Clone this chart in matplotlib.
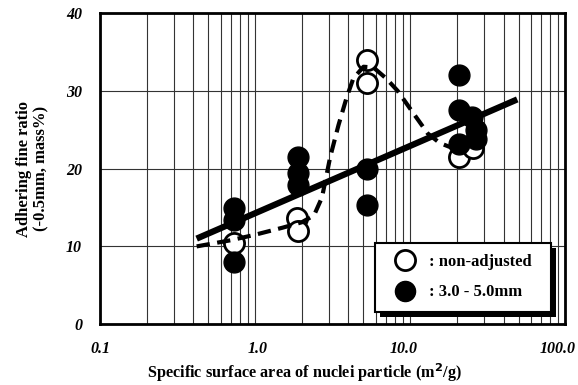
import matplotlib
matplotlib.use("Agg")
import matplotlib.pyplot as plt
from matplotlib.lines import Line2D
from matplotlib.patches import Rectangle
from matplotlib.transforms import ScaledTranslation
from matplotlib.ticker import FixedLocator, FixedFormatter, LogLocator, NullFormatter

# ---- data ----
open_x = [0.73, 1.85, 1.9, 5.3, 5.3, 20.5, 25.5]
open_y = [10.4, 13.6, 12.0, 34.0, 31.0, 21.5, 22.6]

filled_x = [0.73, 0.73, 0.73, 1.9, 1.9, 1.9, 5.3, 5.3, 20.5, 20.5, 20.5, 25.0, 26.5, 26.5]
filled_y = [15.0, 13.4, 8.0, 21.5, 19.4, 17.9, 20.0, 15.3, 32.0, 27.5, 23.2, 26.6, 25.0, 23.8]

line_x = [0.42, 49.0]
line_y = [11.0, 28.9]

dash_x = [0.42, 0.7, 1.0, 1.5, 2.0, 2.4, 2.7, 3.05, 3.45, 3.9, 4.3, 5.0, 5.8, 7.0, 8.3, 10.5, 13.0, 15.5, 19.0]
dash_y = [10.0, 10.8, 11.5, 12.4, 13.1, 14.0, 16.3, 21.5, 25.6, 29.2, 31.6, 33.1, 33.0, 31.6, 30.0, 27.1, 24.5, 23.3, 22.6]

xtick_vals = [0.1, 1.0, 10.0, 100.0]
xtick_labels = ["0.1", "1.0", "10.0", "100.0"]
ytick_vals = [0, 10, 20, 30, 40]
ytick_labels = ["0", "10", "20", "30", "40"]
legend_labels = [": non-adjusted  ", ": 3.0 - 5.0mm"]

serif = "Liberation Serif"

fig = plt.figure(figsize=(5.78, 3.85), dpi=100)
ax = fig.add_axes([0.173, 0.158, 0.805, 0.808])

ax.set_xscale("log")
ax.set_xlim(0.1, 100)
ax.set_ylim(0, 40)

ax.xaxis.set_major_locator(FixedLocator(xtick_vals))
ax.xaxis.set_major_formatter(FixedFormatter(xtick_labels))
ax.xaxis.set_minor_locator(LogLocator(base=10, subs=range(2, 10)))
ax.xaxis.set_minor_formatter(NullFormatter())
ax.yaxis.set_major_locator(FixedLocator(ytick_vals))
ax.yaxis.set_major_formatter(FixedFormatter(ytick_labels))

ax.tick_params(axis="both", which="both", length=0)
ax.tick_params(axis="x", pad=12)
ax.tick_params(axis="y", pad=13)
for lab in ax.get_xticklabels() + ax.get_yticklabels():
    lab.set_fontfamily(serif)
    lab.set_fontweight("bold")
    lab.set_fontstyle("italic")
    lab.set_fontsize(11.5)

# slight horizontal nudges of x tick labels as in the reference
x_shift_px = [0, 3, -7, -8]
for lab, dx in zip(ax.xaxis.get_major_ticks(), x_shift_px):
    t = lab.label1
    t.set_transform(t.get_transform() + ScaledTranslation(dx / 100.0, 0, fig.dpi_scale_trans))

ax.grid(True, which="both", axis="x", color="#333333", lw=0.8)
ax.grid(True, which="major", axis="y", color="#333333", lw=0.8)
ax.set_axisbelow(True)
for sp in ax.spines.values():
    sp.set_linewidth(2.0)
    sp.set_color("black")

ms = 14.5
ax.plot(open_x, open_y, "o", ms=ms, mfc="white", mec="black", mew=2.0, zorder=3)
ax.plot(filled_x, filled_y, "o", ms=ms + 0.5, mfc="black", mec="black", mew=1.0, zorder=4)
ax.plot(line_x, line_y, "-", color="black", lw=4.5, solid_capstyle="butt", zorder=5)
ax.plot(dash_x, dash_y, "--", color="black", lw=3, dashes=(3.2, 1.8), zorder=5)

ax.set_xlabel("Specific surface area of nuclei particle (m$^\\mathbf{2}$/g)",
              fontfamily=serif, fontweight="bold", fontsize=11.7)
ax.xaxis.set_label_coords(0.439, -0.118)
ax.set_ylabel("Adhering fine ratio\n(-0.5mm, mass%)",
              fontfamily=serif, fontweight="bold", fontsize=12, labelpad=12,
              linespacing=1.1)

handles = [
    Line2D([], [], ls="", marker="o", ms=ms, mfc="white", mec="black", mew=2.0),
    Line2D([], [], ls="", marker="o", ms=ms, mfc="black", mec="black"),
]
leg = ax.legend(handles, legend_labels, loc="lower right",
                bbox_to_anchor=(0.97, 0.039), borderaxespad=0,
                prop={"family": serif, "weight": "bold", "size": 12},
                frameon=True, fancybox=False, edgecolor="black",
                framealpha=1, borderpad=0.7, labelspacing=0.85,
                handletextpad=0.3, handlelength=2.2)
leg.get_frame().set_linewidth(1.5)
leg.set_zorder(10)

fig.canvas.draw()
bb = leg.get_window_extent()
inv = fig.transFigure.inverted()
(x0, y0), (x1, y1) = inv.transform([[bb.x0 + 5, bb.y0 - 5], [bb.x1 + 5, bb.y1 - 5]])
shadow = Rectangle((x0, y0), x1 - x0, y1 - y0, transform=fig.transFigure,
                   facecolor="black", edgecolor="none", zorder=9, clip_on=False)
ax.add_patch(shadow)

fig.savefig("out.png", dpi=100)
